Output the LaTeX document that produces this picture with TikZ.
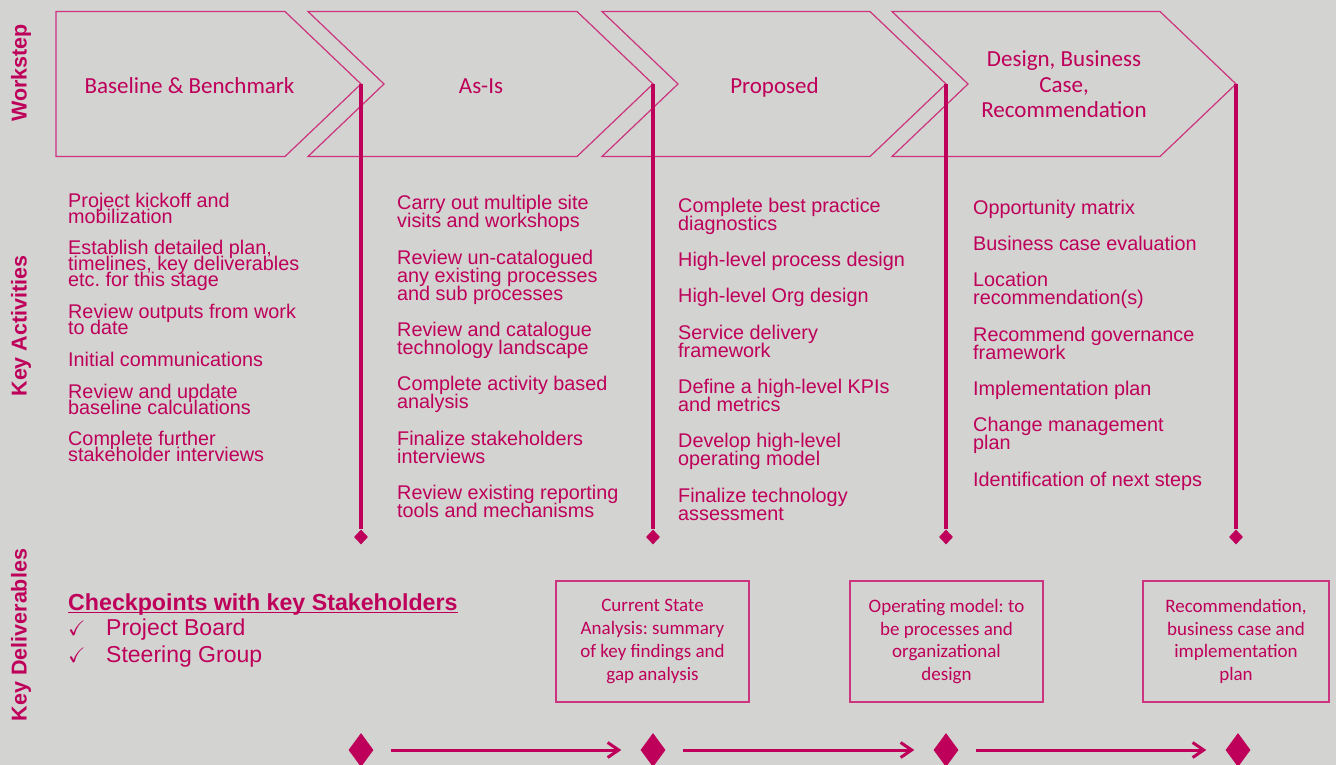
\documentclass[tikz,border=0pt]{standalone}
\usepackage{fontspec}
\usepackage{amssymb}
\setmainfont{Liberation Sans}
\newfontfamily\calibri{Carlito}
\usetikzlibrary{shapes.geometric,arrows.meta}
\definecolor{berry}{RGB}{190,0,90}
\definecolor{rose}{RGB}{204,52,128}
\definecolor{paper}{RGB}{211,211,209}
\newcommand\tightlines{\lineskiplimit=-30pt\relax}
\frenchspacing

\begin{document}
\begin{tikzpicture}[x=1pt, y=-1pt,
  chev/.style={draw=rose, line width=1.2pt},
  stem/.style={draw=berry, line width=3.2pt},
  flow/.style={draw=berry, line width=3pt, -{Straight Barb[length=11pt,width=15pt]}, shorten <=17pt, shorten >=19pt},
  pin/.style={shape=diamond, fill=berry, inner sep=0pt, minimum width=14pt, minimum height=15pt},
  gem/.style={shape=diamond, fill=berry, inner sep=0pt, minimum width=25pt, minimum height=34pt},
  deliv/.style={draw=rose, line width=1.2pt, minimum height=121pt, align=center, text=berry, font=\calibri\fontsize{19}{22.7}\selectfont},
  stage/.style={text=berry, align=center, inner sep=0pt, font=\calibri\fontsize{23}{25.7}\selectfont},
  act/.style={text=berry, align=left, inner sep=0pt},
  rowname/.style={text=berry, rotate=90, font=\bfseries\fontsize{21.5}{24}\selectfont}
]
\def\ctop{11.5}
\def\cbot{156.5}
\def\cmid{84}
\useasboundingbox (0,0) rectangle (1336,765);
\fill [paper] (0,0) rectangle (1336,765);

% row names
\node (rowW) [rowname] at (21,73) {Workstep};
\node (rowA) [rowname] at (21,326) {Key Activities};
\node (rowD) [rowname] at (21,635) {Key Deliverables};

% workstep chevrons
\path [chev] (56,\ctop) -- (285,\ctop) -- (361,\cmid) coordinate (tipA) -- (285,\cbot) -- (56,\cbot) -- cycle;
\foreach \l/\r/\n in {308/577/B, 602/870/C, 892/1160/D}
  \path [chev] (\l,\ctop) -- (\r,\ctop) -- (\r+76,\cmid) coordinate (tip\n) -- (\r,\cbot) -- (\l,\cbot) -- (\l+76,\cmid) -- cycle;
\node (stA) [stage, anchor=base] at (189.5,94) {Baseline \& Benchmark};
\node (stB) [stage, anchor=base] at (481,94) {As-Is};
\node (stC) [stage, anchor=base] at (774.5,93.5) {Proposed};
\node (stD) [stage, anchor=base] at (1064,118) {Design, Business\\Case,\\Recommendation};

% key activities (placed by their last line)
\def\gapA{15.7pt}
\def\gapB{18.3pt}
\node (actA) [act, anchor=base west, font=\fontsize{19.8}{16}\selectfont\tightlines] at (68,461.7)
  {Project kickoff and\\mobilization\\[\gapA]Establish detailed plan,\\timelines, key deliverables\\etc. for this stage\\[\gapA]Review outputs from work\\to date\\[\gapA]Initial communications\\[\gapA]Review and update\\baseline calculations\\[\gapA]Complete further\\stakeholder interviews};
\node (actB) [act, anchor=base west, font=\fontsize{19.8}{18}\selectfont\tightlines] at (397,517.3)
  {Carry out multiple site\\visits and workshops\\[\gapB]Review un-catalogued\\any existing processes\\and sub processes\\[\gapB]Review and catalogue\\technology landscape\\[\gapB]Complete activity based\\analysis\\[\gapB]Finalize stakeholders\\interviews\\[\gapB]Review existing reporting\\tools and mechanisms};
\node (actC) [act, anchor=base west, font=\fontsize{19.8}{18}\selectfont\tightlines] at (678,520)
  {Complete best practice\\diagnostics\\[\gapB]High-level process design\\[\gapB]High-level Org design\\[\gapB]Service delivery\\framework\\[\gapB]Define a high-level KPIs\\and metrics\\[\gapB]Develop high-level\\operating model\\[\gapB]Finalize technology\\assessment};
\node (actD) [act, anchor=base west, font=\fontsize{19.8}{18}\selectfont\tightlines] at (973,486)
  {Opportunity matrix\\[\gapB]Business case evaluation\\[\gapB]Location\\recommendation(s)\\[\gapB]Recommend governance\\framework\\[\gapB]Implementation plan\\[\gapB]Change management\\plan\\[\gapB]Identification of next steps};

% stems down to the checkpoints
\foreach \n/\x in {A/361, B/653, C/946, D/1236} {
  \node (pin\n) [pin] at (\x,537) {};
  \path [stem] (tip\n) -- (pin\n);
}

% key deliverables
\node (ckpt) [anchor=base west, text=berry, inner sep=0pt, font=\bfseries\fontsize{23.2}{27}\selectfont] at (68,610) {Checkpoints with key Stakeholders};
\path [draw=berry, line width=1.6pt] ([yshift=-2.5pt]ckpt.base west) -- ([yshift=-2.5pt]ckpt.base east);
\node (ckB) [anchor=base west, text=berry, inner sep=0pt, font=\fontsize{23}{27}\selectfont] at (68,635)
  {\makebox[38pt][l]{\fontsize{21}{24}\selectfont$\checkmark$}Project Board};
\node (ckS) [anchor=base west, text=berry, inner sep=0pt, font=\fontsize{23}{27}\selectfont] at (68,662.5)
  {\makebox[38pt][l]{\fontsize{21}{24}\selectfont$\checkmark$}Steering Group};

\node (delB) [deliv, minimum width=193pt] at (652.5,641.5) {Current State\\Analysis: summary\\of key findings and\\gap analysis};
\node (delC) [deliv, minimum width=193pt] at (946.5,641.5) {Operating model: to\\be processes and\\organizational\\design};
\node (delD) [deliv, minimum width=186pt] at (1236,641.5) {Recommendation,\\business case and\\implementation\\plan};

% milestone line
\foreach \n/\x in {A/361, B/653, C/946, D/1238}
  \node (gem\n) [gem] at (\x,750) {};
\path [flow] (gemA) -- (gemB);
\path [flow] (gemB) -- (gemC);
\path [flow] (gemC) -- (gemD);
\end{tikzpicture}
\end{document}
